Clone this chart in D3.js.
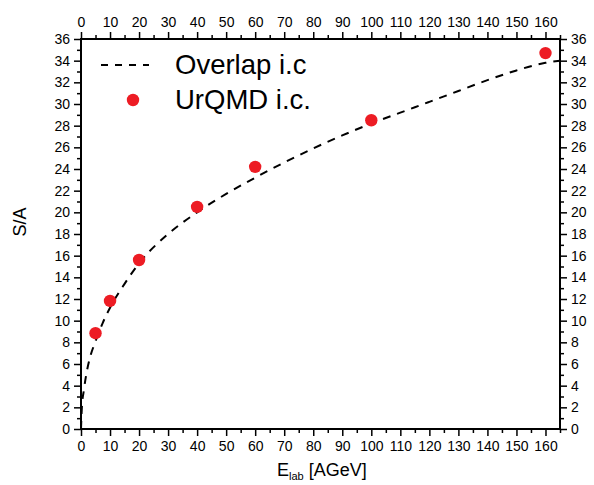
<!DOCTYPE html>
<html><head><meta charset="utf-8">
<script src="https://cdn.jsdelivr.net/npm/d3@7"></script>
<style>body{margin:0;background:#fff}svg{display:block}text{font-family:"Liberation Sans",Arial,sans-serif;fill:#000}</style>
</head><body><svg id="c" width="594" height="485"></svg>
<script>
// UrQMD i.c. points
const urqmdE = [5, 10, 20, 40, 60, 100, 160];
const urqmdSA = [8.84, 11.82, 15.6, 20.5, 24.2, 28.5, 34.7];
// Overlap i.c. curve
const overlapE = [0, 0.3, 1, 2, 3, 5, 7.5, 10, 15, 20, 30, 40, 50, 60, 70, 80, 90, 100, 110, 120, 130, 140, 150, 160, 165];
const overlapSA = [0, 2, 3.6, 5.3, 6.5, 8.1, 9.8, 11.2, 13.4, 15.3, 18.0, 20.0, 21.7, 23.2, 24.6, 25.9, 27.1, 28.2, 29.2, 30.2, 31.2, 32.2, 33.1, 33.8, 34.0];
const xTicks = d3.range(0, 161, 10);
const yTicks = d3.range(0, 37, 2);
const legendLabels = ["Overlap i.c", "UrQMD i.c."];

const svg = d3.select("#c");
const L = 81, R = 560, T = 39, B = 429;
const x = d3.scaleLinear().domain([0, 165]).range([L, R]);
const y = d3.scaleLinear().domain([0, 36]).range([B, T]);

function styleAxis(g){
  g.selectAll(".domain").remove();
  g.selectAll(".tick line").attr("stroke","#000").attr("stroke-width",1.5);
  g.selectAll(".tick text").attr("font-size",14).attr("font-family","Liberation Sans, Arial, sans-serif");
}
function minor(g){ g.selectAll(".tick text").remove(); g.selectAll(".domain").remove(); g.selectAll(".tick line").attr("stroke","#000").attr("stroke-width",1.5); }

const xMinor = d3.range(5, 166, 10);
const yMinor = d3.range(1, 36, 2);

// bottom
svg.append("g").attr("transform",`translate(0,${B})`).call(d3.axisBottom(x).tickValues(xTicks).tickSize(7).tickPadding(5).tickFormat(d3.format("d"))).call(styleAxis);
svg.append("g").attr("transform",`translate(0,${B})`).call(d3.axisBottom(x).tickValues(xMinor).tickSize(4)).call(minor);
// top
svg.append("g").attr("transform",`translate(0,${T})`).call(d3.axisTop(x).tickValues(xTicks).tickSize(7).tickPadding(5).tickFormat(d3.format("d"))).call(styleAxis);
svg.append("g").attr("transform",`translate(0,${T})`).call(d3.axisTop(x).tickValues(xMinor).tickSize(4)).call(minor);
// left
svg.append("g").attr("transform",`translate(${L},0)`).call(d3.axisLeft(y).tickValues(yTicks).tickSize(7).tickPadding(4).tickFormat(d3.format("d"))).call(styleAxis);
svg.append("g").attr("transform",`translate(${L},0)`).call(d3.axisLeft(y).tickValues(yMinor).tickSize(4)).call(minor);
// right
svg.append("g").attr("transform",`translate(${R},0)`).call(d3.axisRight(y).tickValues(yTicks).tickSize(7).tickPadding(4).tickFormat(d3.format("d"))).call(styleAxis);
svg.append("g").attr("transform",`translate(${R},0)`).call(d3.axisRight(y).tickValues(yMinor).tickSize(4)).call(minor);

// frame
svg.append("rect").attr("x",L).attr("y",T).attr("width",R-L).attr("height",B-T).attr("fill","none").attr("stroke","#000").attr("stroke-width",2);

// curve
const line = d3.line().x((d,i)=>x(overlapE[i])).y((d,i)=>y(overlapSA[i])).curve(d3.curveMonotoneX);
svg.append("path").datum(overlapSA).attr("d",line).attr("fill","none").attr("stroke","#000").attr("stroke-width",2).attr("stroke-dasharray","8,7");

// points
svg.append("g").selectAll("circle").data(urqmdE).join("circle")
  .attr("cx",(d)=>x(d)).attr("cy",(d,i)=>y(urqmdSA[i])).attr("r",6.2).attr("fill","#ed1c24");

// legend
svg.append("line").attr("x1",101).attr("x2",149).attr("y1",65).attr("y2",65).attr("stroke","#000").attr("stroke-width",2).attr("stroke-dasharray","7,7");
svg.append("text").attr("x",175).attr("y",74).attr("font-size",27.5).text(legendLabels[0]);
svg.append("circle").attr("cx",133).attr("cy",100).attr("r",6.2).attr("fill","#ed1c24");
svg.append("text").attr("x",175).attr("y",109).attr("font-size",27.5).text(legendLabels[1]);

// axis titles
const xt = svg.append("text").attr("x",277).attr("y",476).attr("font-size",18);
xt.append("tspan").text("E");
xt.append("tspan").attr("font-size",11).attr("dy",4).text("lab");
xt.append("tspan").attr("dy",-4).text(" [AGeV]");
svg.append("text").attr("transform","translate(26,222) rotate(-90)").attr("text-anchor","middle").attr("font-size",18).text("S/A");
</script></body></html>
